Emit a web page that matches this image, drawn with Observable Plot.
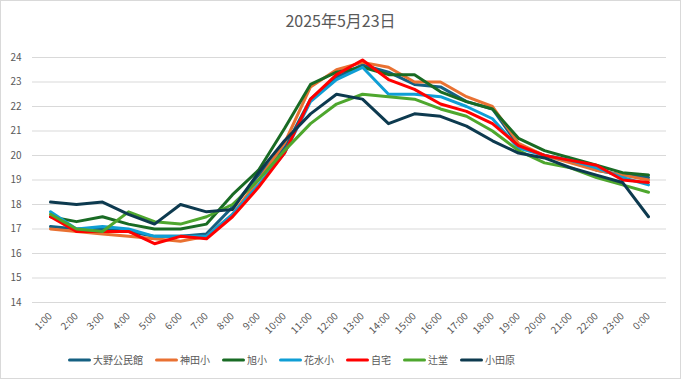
<!DOCTYPE html>
<html><head><meta charset="utf-8">
<script src="https://cdn.jsdelivr.net/npm/d3@7"></script>
<script src="https://cdn.jsdelivr.net/npm/@observablehq/plot@0.6"></script>
<style>
body{margin:0;background:#fff;}
#chart{position:relative;width:681px;height:379px;font-family:"Noto Sans CJK JP","Noto Sans",sans-serif;overflow:hidden;background:#fff}
#frame{position:absolute;left:0;top:0;width:681px;height:379px;box-sizing:border-box;border:1px solid #d9d9d9;pointer-events:none}
#title{position:absolute;left:0;top:9px;width:100%;text-align:center;font-size:16px;color:#595959;line-height:22px}
#plot{position:absolute;left:0;top:40px}
#legend{position:absolute;top:352px;left:68px;display:flex;align-items:center;font-size:10px;color:#595959;line-height:16px;white-space:nowrap}
.item{display:flex;align-items:center;margin-right:12px}
.item svg{margin-right:2px}
</style>
</head><body>
<div id="chart">
  <div id="title">2025年5月23日</div>
  <div id="plot"></div>
  <div id="legend"></div>
  <div id="frame"></div>
</div>
<script>
const hours = ["1:00","2:00","3:00","4:00","5:00","6:00","7:00","8:00","9:00","10:00","11:00","12:00","13:00","14:00","15:00","16:00","17:00","18:00","19:00","20:00","21:00","22:00","23:00","0:00"];
const seriesNames = ["大野公民館","神田小","旭小","花水小","自宅","辻堂","小田原"];
const seriesColors = ["#156082","#E97132","#196B24","#0F9ED5","#FF0000","#4EA72E","#0D3A4F"];
const yTicks = [14,15,16,17,18,19,20,21,22,23,24];

const oono   = [17.1,17.0,17.0,16.9,16.7,16.7,16.8,17.9,19.2,20.3,22.3,23.2,23.7,23.4,22.9,22.8,22.2,21.9,20.4,20.0,19.8,19.4,19.2,19.1];
const kanda  = [17.0,16.9,16.8,16.7,16.6,16.5,16.7,17.6,19.0,20.5,22.8,23.5,23.8,23.6,23.0,23.0,22.4,22.0,20.5,20.0,19.7,19.4,19.2,19.0];
const asahi  = [17.5,17.3,17.5,17.2,17.0,17.0,17.2,18.4,19.4,21.1,22.9,23.4,23.6,23.3,23.3,22.6,22.2,21.9,20.7,20.2,19.9,19.6,19.3,19.2];
const hanamizu = [17.7,17.0,17.1,17.0,16.7,16.7,16.7,17.6,18.8,20.1,22.2,23.1,23.6,22.5,22.5,22.4,22.0,21.5,20.3,20.0,19.8,19.5,19.1,18.8];
const jitaku = [17.5,16.9,16.9,16.9,16.4,16.7,16.6,17.5,18.7,20.1,22.3,23.3,23.9,23.1,22.7,22.1,21.8,21.3,20.4,20.0,19.8,19.6,19.0,18.9];
const tsujido = [17.6,17.0,16.9,17.7,17.3,17.2,17.5,18.0,19.0,20.2,21.3,22.1,22.5,22.4,22.3,21.9,21.6,21.0,20.2,19.7,19.5,19.1,18.8,18.5];
const odawara = [18.1,18.0,18.1,17.6,17.2,18.0,17.7,17.8,19.3,20.6,21.7,22.5,22.3,21.3,21.7,21.6,21.2,20.6,20.1,19.9,19.5,19.2,18.9,17.5];

const seriesValues = [oono,kanda,asahi,hanamizu,jitaku,tsujido,odawara];
const data = seriesNames.flatMap((s,i)=>seriesValues[i].map((v,j)=>({hour:hours[j],value:v,series:s})));

const chart = Plot.plot({
  width:681, height:305,
  marginTop:17, marginBottom:43, marginLeft:32, marginRight:15,
  style:{fontFamily:'"Noto Sans CJK JP","Noto Sans",sans-serif',fontSize:"10px",color:"#595959",background:"transparent"},
  x:{type:"point",domain:hours,padding:0.5,label:null},
  y:{domain:[14,24],label:null},
  color:{domain:seriesNames,range:seriesColors},
  marks:[
    Plot.gridY(yTicks,{stroke:"#d9d9d9",strokeOpacity:1,strokeWidth:1}),
    Plot.axisY(yTicks,{tickSize:0,tickPadding:11,label:null,fill:"#595959"}),
    Plot.axisX({tickSize:0,tickRotate:-45,tickPadding:12,label:null,fill:"#595959"}),
    Plot.line(data,{x:"hour",y:"value",z:"series",stroke:"series",strokeWidth:3,strokeLinejoin:"round",strokeLinecap:"round"})
  ]
});
document.getElementById("plot").appendChild(chart);

const legend = document.getElementById("legend");
seriesNames.forEach((s,i)=>{
  const item = document.createElement("div");
  item.className="item";
  item.innerHTML = `<svg width="23" height="6"><line x1="1.5" y1="3" x2="21.5" y2="3" stroke="${seriesColors[i]}" stroke-width="3" stroke-linecap="round"/></svg><span>${s}</span>`;
  legend.appendChild(item);
});
</script>
</body></html>
